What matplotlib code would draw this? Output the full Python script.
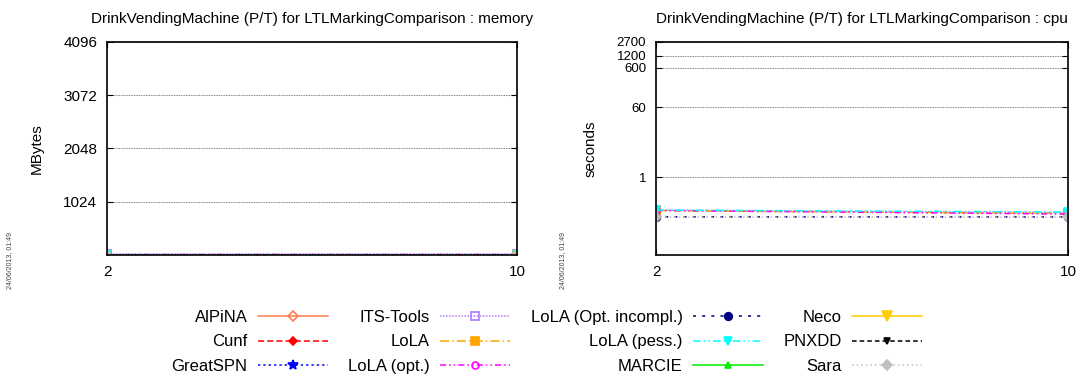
import matplotlib.pyplot as plt
from matplotlib.ticker import NullLocator

plt.rcParams['font.family'] = ['Liberation Sans', 'DejaVu Sans']

# model sizes (x axis)
sizes = [2, 10]

# memory in MBytes per tool
mem_its = [12, 12]
mem_lola = [8, 8]
mem_lola_opt = [8, 9]
mem_lola_incompl = [7, 7]
mem_lola_pess = [9, 9]
mem_sara = [6, 6]

# cpu in seconds per tool
cpu_its = [0.145, 0.125]
cpu_lola = [0.14, 0.12]
cpu_lola_opt = [0.142, 0.115]
cpu_lola_incompl = [0.098, 0.097]
cpu_lola_pess = [0.145, 0.13]
cpu_sara = [0.097, 0.096]

tools = ['AlPiNA', 'Cunf', 'GreatSPN', 'ITS-Tools', 'LoLA', 'LoLA (opt.)',
         'LoLA (Opt. incompl.)', 'LoLA (pess.)', 'MARCIE', 'Neco', 'PNXDD', 'Sara']
mem_data = {'ITS-Tools': mem_its, 'LoLA': mem_lola, 'LoLA (opt.)': mem_lola_opt,
            'LoLA (Opt. incompl.)': mem_lola_incompl, 'LoLA (pess.)': mem_lola_pess,
            'Sara': mem_sara}
cpu_data = {'ITS-Tools': cpu_its, 'LoLA': cpu_lola, 'LoLA (opt.)': cpu_lola_opt,
            'LoLA (Opt. incompl.)': cpu_lola_incompl, 'LoLA (pess.)': cpu_lola_pess,
            'Sara': cpu_sara}

# gnuplot-like styles: color, linestyle, marker, marker filled
styles = {
    'AlPiNA': ('#ff7f50', '-', 'D', False),
    'Cunf': ('#ff0000', (0, (4, 2)), 'D', True),
    'GreatSPN': ('#0000ff', (0, (1.5, 2)), '*', True),
    'ITS-Tools': ('#b07cff', (0, (1, 1)), 's', False),
    'LoLA': ('#ffa500', (0, (6, 2, 1, 2)), 's', True),
    'LoLA (opt.)': ('#ff00ff', (0, (4, 2, 1, 2, 1, 2)), 'o', False),
    'LoLA (Opt. incompl.)': ('#000080', (0, (2, 4)), 'o', True),
    'LoLA (pess.)': ('#00ffff', (0, (5, 2, 1, 2, 1, 2)), 'v', True),
    'MARCIE': ('#00ee00', '-', '^', True),
    'Neco': ('#ffcc00', '-', 'v', True),
    'PNXDD': ('#000000', (0, (3, 2)), 'v', True),
    'Sara': ('#c0c0c0', (0, (1, 2)), 'D', True),
}
msizes = {'AlPiNA': 5, 'Cunf': 4, 'GreatSPN': 7, 'ITS-Tools': 5.5, 'LoLA': 6,
          'LoLA (opt.)': 5, 'LoLA (Opt. incompl.)': 5.5, 'LoLA (pess.)': 5.5,
          'MARCIE': 4.5, 'Neco': 6.5, 'PNXDD': 4.5, 'Sara': 5}

fig = plt.figure(figsize=(10.79, 3.78), dpi=100)
ax_mem = fig.add_axes([0.0992, 0.3254, 0.380, 0.5635])
ax_cpu = fig.add_axes([0.608, 0.3254, 0.3818, 0.5635])


def draw(ax, data):
    handles = []
    for t in tools:
        c, ls, m, filled = styles[t]
        ys = data.get(t, [])
        xs = sizes if ys else []
        h, = ax.plot(xs, ys, color=c, linestyle=ls, linewidth=1.1, marker=m,
                     markersize=msizes[t],
                     markerfacecolor=c if filled else 'none',
                     markeredgecolor=c, markeredgewidth=1.2, label=t)
        handles.append(h)
    return handles


handles = draw(ax_mem, mem_data)
draw(ax_cpu, cpu_data)

for ax in (ax_mem, ax_cpu):
    ax.set_xlim(2, 10)
    ax.set_xticks(sizes)
    ax.tick_params(direction='in', top=True, right=True, length=4, labelsize=11,
                   pad=7)
    ax.yaxis.grid(True, color='#555555', linestyle=(0, (1, 1)), linewidth=0.6)
    for s in ax.spines.values():
        s.set_linewidth(1.2)

ax_mem.set_ylim(0, 4096)
ax_mem.set_yticks([1024, 2048, 3072, 4096])
ax_mem.set_ylabel('MBytes', fontsize=11, labelpad=14)
ax_mem.set_title('DrinkVendingMachine (P/T) for LTLMarkingComparison : memory',
                 fontsize=11, pad=14)

ax_cpu.set_yscale('log')
ax_cpu.set_ylim(0.0105, 2700)
ax_cpu.set_yticks([1, 60, 600, 1200, 2700])
ax_cpu.set_yticklabels(['1', '60', '600', '1200', '2700'])
ax_cpu.yaxis.set_minor_locator(NullLocator())
ax_cpu.tick_params(axis='y', labelsize=9.5)
ax_cpu.set_ylabel('seconds', fontsize=11, labelpad=14)
ax_cpu.set_title('DrinkVendingMachine (P/T) for LTLMarkingComparison : cpu',
                 fontsize=11, pad=14)

fig.text(0.009, 0.31, '24/06/2013, 01:49', rotation=90, fontsize=5, color='#444444',
         ha='center', va='center')
fig.text(0.521, 0.31, '24/06/2013, 01:49', rotation=90, fontsize=5, color='#444444',
         ha='center', va='center')

fig.legend(handles=handles, ncol=4, loc='upper center', bbox_to_anchor=(0.5065, 0.197),
           frameon=False, markerfirst=False, fontsize=12, handlelength=4.2,
           handletextpad=0.6, columnspacing=1.24, labelspacing=0.55, borderaxespad=0)

fig.savefig('out.png', dpi=100)
